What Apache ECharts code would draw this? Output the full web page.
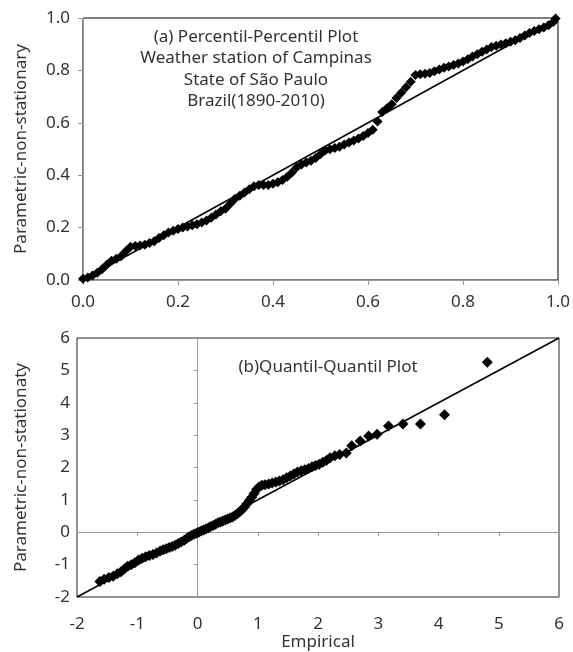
<!DOCTYPE html>
<html lang="en">
	<head>
		<meta charset="UTF-8">
		<script src="https://cdn.jsdelivr.net/npm/echarts@6/dist/echarts.min.js" type="text/javascript" charset="utf-8"></script>
		<title>Percentil / Quantil plot</title>
		<style>
			html, body { margin: 0; padding: 0; background: #fff; }
		</style>
	</head>
	<body>
		<div id="main" style="width: 573px; height: 652px;"></div>

		<script type="text/javascript">
			// (a) Percentil-Percentil: empirical vs parametric non-stationary probability
			var ppEmpirical = [0.00, 0.01, 0.02, 0.03, 0.04, 0.05, 0.06, 0.07, 0.08, 0.09,
				0.10, 0.11, 0.12, 0.13, 0.14, 0.15, 0.16, 0.17, 0.18, 0.19,
				0.20, 0.21, 0.22, 0.23, 0.24, 0.25, 0.26, 0.27, 0.28, 0.29,
				0.30, 0.31, 0.32, 0.33, 0.34, 0.35, 0.36, 0.37, 0.38, 0.39,
				0.40, 0.41, 0.42, 0.43, 0.44, 0.45, 0.46, 0.47, 0.48, 0.49,
				0.50, 0.51, 0.52, 0.53, 0.54, 0.55, 0.56, 0.57, 0.58, 0.59,
				0.60, 0.61, 0.62, 0.63, 0.64, 0.65, 0.66, 0.67, 0.68, 0.69,
				0.70, 0.71, 0.72, 0.73, 0.74, 0.75, 0.76, 0.77, 0.78, 0.79,
				0.80, 0.81, 0.82, 0.83, 0.84, 0.85, 0.86, 0.87, 0.88, 0.89,
				0.90, 0.91, 0.92, 0.93, 0.94, 0.95, 0.96, 0.97, 0.98, 0.99, 0.995];
			var ppParametric = [0.005, 0.010, 0.017, 0.028, 0.041, 0.058, 0.073, 0.081, 0.091, 0.110,
				0.127, 0.130, 0.132, 0.135, 0.141, 0.148, 0.160, 0.171, 0.181, 0.188,
				0.195, 0.200, 0.204, 0.209, 0.213, 0.219, 0.227, 0.238, 0.250, 0.262,
				0.272, 0.291, 0.310, 0.322, 0.334, 0.346, 0.358, 0.363, 0.363, 0.363,
				0.367, 0.373, 0.382, 0.394, 0.410, 0.430, 0.441, 0.448, 0.455, 0.466,
				0.480, 0.494, 0.499, 0.504, 0.509, 0.517, 0.525, 0.532, 0.540, 0.550,
				0.561, 0.573, 0.605, 0.641, 0.656, 0.671, 0.695, 0.715, 0.736, 0.757,
				0.782, 0.785, 0.787, 0.790, 0.797, 0.803, 0.810, 0.815, 0.821, 0.826,
				0.834, 0.843, 0.853, 0.862, 0.871, 0.880, 0.889, 0.894, 0.899, 0.904,
				0.909, 0.915, 0.924, 0.933, 0.943, 0.950, 0.957, 0.964, 0.972, 0.985, 0.998];

			// (b) Quantil-Quantil
			var qqEmpirical = [-1.62, -1.55, -1.47, -1.40, -1.33, -1.27, -1.21, -1.16, -1.10, -1.04,
				-0.98, -0.92, -0.86, -0.80, -0.74, -0.68, -0.62, -0.57, -0.52, -0.47,
				-0.42, -0.37, -0.32, -0.27, -0.22, -0.18, -0.14, -0.10, -0.06, -0.02,
				0.02, 0.06, 0.10, 0.14, 0.18, 0.22, 0.26, 0.30, 0.34, 0.38,
				0.42, 0.46, 0.50, 0.54, 0.58, 0.62, 0.66, 0.70, 0.74, 0.78,
				0.82, 0.86, 0.90, 0.94, 0.98, 1.02, 1.07, 1.12, 1.18, 1.24,
				1.30, 1.36, 1.42, 1.48, 1.54, 1.60, 1.66, 1.72, 1.78, 1.84,
				1.90, 1.96, 2.02, 2.08, 2.14, 2.20, 2.28, 2.36, 2.47, 2.56,
				2.70, 2.84, 2.98, 3.17, 3.41, 3.70, 4.10, 4.81];
			var qqParametric = [-1.52, -1.45, -1.40, -1.36, -1.28, -1.22, -1.13, -1.05, -1.00, -0.94,
				-0.86, -0.80, -0.76, -0.72, -0.69, -0.64, -0.58, -0.54, -0.51, -0.47,
				-0.44, -0.40, -0.35, -0.30, -0.25, -0.19, -0.14, -0.10, -0.06, -0.03,
				0.00, 0.04, 0.07, 0.10, 0.14, 0.18, 0.21, 0.25, 0.29, 0.32,
				0.35, 0.38, 0.41, 0.44, 0.47, 0.52, 0.57, 0.63, 0.70, 0.78,
				0.88, 0.98, 1.08, 1.20, 1.32, 1.40, 1.45, 1.47, 1.49, 1.52,
				1.55, 1.58, 1.62, 1.68, 1.74, 1.80, 1.86, 1.90, 1.93, 1.97,
				2.02, 2.06, 2.10, 2.16, 2.22, 2.30, 2.36, 2.40, 2.45, 2.67,
				2.82, 2.97, 3.03, 3.28, 3.34, 3.34, 3.63, 5.25];

			// 1:1 reference lines
			var ppLine = [[0, 0], [1, 1]];
			var qqLine = [[-2, -2], [6, 6]];

			function zip(a, b) {
				var out = [];
				for (var i = 0; i < a.length; i++) {
					out.push([a[i], b[i]]);
				}
				return out;
			}

			var font = 'Noto Sans';
			var txt = '#333';
			var gray = '#999';
			var lbl = { color: txt, fontSize: 17, fontFamily: font };

			var myChart = echarts.init(document.getElementById('main'), null, { renderer: 'canvas' });

			var option = {
				animation: false,
				backgroundColor: '#fff',
				grid: [{
					left: 83, top: 18, width: 476, height: 262,
					show: true, borderColor: '#000', borderWidth: 1
				}, {
					left: 77, top: 338, width: 482, height: 261,
					show: true, borderColor: '#222', borderWidth: 1
				}],
				xAxis: [{
					gridIndex: 0, type: 'value', min: 0, max: 1, interval: 0.2,
					axisLine: { onZero: false, lineStyle: { color: gray } },
					axisTick: { length: 5, lineStyle: { color: gray } },
					axisLabel: Object.assign({ margin: 14, formatter: function(v) { return v.toFixed(1); } }, lbl),
					splitLine: { show: false }
				}, {
					// labels of the Q-Q x axis, at the bottom edge
					gridIndex: 1, type: 'value', position: 'bottom', min: -2, max: 6, interval: 1,
					axisLine: { show: false, onZero: false },
					axisTick: { show: false },
					axisLabel: Object.assign({ margin: 19 }, lbl),
					splitLine: { show: false },
					name: 'Empirical', nameLocation: 'middle', nameGap: 37,
					nameTextStyle: lbl
				}, {
					// the x axis line crossing at y = 0
					gridIndex: 1, type: 'value', position: 'top', min: -2, max: 6, interval: 1,
					axisLine: { onZero: true, onZeroAxisIndex: 2, lineStyle: { color: gray } },
					axisTick: { inside: true, length: 4, lineStyle: { color: gray } },
					axisLabel: { show: false },
					splitLine: { show: false }
				}],
				yAxis: [{
					gridIndex: 0, type: 'value', min: 0, max: 1, interval: 0.2,
					axisLine: { onZero: false, lineStyle: { color: gray } },
					axisTick: { length: 5, lineStyle: { color: gray } },
					axisLabel: Object.assign({ margin: 13, formatter: function(v) { return v.toFixed(1); } }, lbl),
					splitLine: { show: false },
					name: 'Parametric-non-stationary', nameLocation: 'middle', nameGap: 53,
					nameTextStyle: lbl
				}, {
					gridIndex: 1, type: 'value', position: 'left', min: -2, max: 6, interval: 1,
					axisLine: { show: false, onZero: false },
					axisTick: { show: false },
					axisLabel: Object.assign({ margin: 7 }, lbl),
					splitLine: { show: false },
					name: 'Parametric-non-stationaty', nameLocation: 'middle', nameGap: 47,
					nameTextStyle: lbl
				}, {
					// the y axis line crossing at x = 0
					gridIndex: 1, type: 'value', position: 'right', min: -2, max: 6, interval: 1,
					axisLine: { onZero: true, onZeroAxisIndex: 2, lineStyle: { color: gray } },
					axisTick: { inside: true, length: 4, lineStyle: { color: gray } },
					axisLabel: { show: false },
					splitLine: { show: false }
				}],
				graphic: [{
					type: 'text', silent: true, z: 10,
					style: {
						x: 256, y: 26, text: '(a) Percentil-Percentil Plot\nWeather station of Campinas\nState of São Paulo\nBrazil(1890-2010)',
						textAlign: 'center', textVerticalAlign: 'top', lineHeight: 21.5,
						fill: txt, font: '17px "Noto Sans"'
					}
				}, {
					type: 'text', silent: true, z: 10,
					style: {
						x: 328, y: 367, text: '(b)Quantil-Quantil Plot',
						textAlign: 'center', textVerticalAlign: 'middle',
						fill: txt, font: '17px "Noto Sans"'
					}
				}],
				series: [{
					name: 'P-P 1:1', type: 'line', xAxisIndex: 0, yAxisIndex: 0,
					data: ppLine, showSymbol: false, silent: true,
					lineStyle: { color: '#000', width: 1.5 }, z: 2
				}, {
					name: 'P-P', type: 'scatter', xAxisIndex: 0, yAxisIndex: 0,
					data: zip(ppEmpirical, ppParametric),
					symbol: 'diamond', symbolSize: 10,
					itemStyle: { color: '#000', opacity: 1 }, z: 3
				}, {
					name: 'Q-Q 1:1', type: 'line', xAxisIndex: 1, yAxisIndex: 1,
					data: qqLine, showSymbol: false, silent: true,
					lineStyle: { color: '#000', width: 1.5 }, z: 2
				}, {
					name: 'Q-Q', type: 'scatter', xAxisIndex: 1, yAxisIndex: 1,
					data: zip(qqEmpirical, qqParametric),
					symbol: 'diamond', symbolSize: 11,
					itemStyle: { color: '#000', opacity: 1 }, z: 3
				}]
			};
			myChart.setOption(option);
		</script>
	</body>
</html>
